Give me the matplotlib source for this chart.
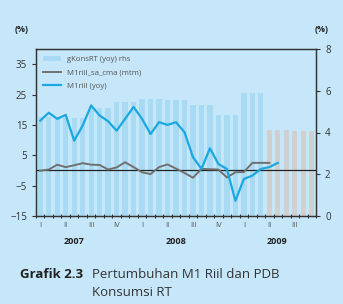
import numpy as np
import matplotlib
matplotlib.use('Agg')
from matplotlib import pyplot as plt
from matplotlib.patches import Patch
from matplotlib.lines import Line2D

plt.rcParams['font.family'] = ['Open Sans', 'DejaVu Sans']

# monthly consumption growth (quarterly value repeated per month), right axis
kons_rt = [4.72, 4.72, 4.72, 4.70, 4.70, 4.70, 5.15, 5.15, 5.15, 5.45, 5.45, 5.45,
           5.62, 5.62, 5.62, 5.55, 5.55, 5.55, 5.30, 5.30, 5.30, 4.83, 4.83, 4.83,
           5.87, 5.87, 5.87]
kons_proj = [4.13, 4.13, 4.13, 4.05, 4.05, 4.05]

# M1 real yoy, left axis
m1_yoy = [16.4, 19.0, 17.0, 18.3, 9.8, 14.8, 21.4, 18.1, 16.2, 13.1, 17.0, 20.9,
          17.0, 12.0, 15.9, 15.0, 15.9, 12.6, 4.4, 0.5, 7.3, 2.1, 0.5, -10.0,
          -2.8, -1.7, 0.5, 1.1, 2.5]
# M1 real sa cma mtm, left axis
m1_mtm = [-0.1, 0.3, 1.9, 1.1, 1.7, 2.4, 1.9, 1.8, 0.3, 1.0, 2.7, 1.1,
          -0.6, -1.2, 1.1, 2.0, 0.6, -0.8, -2.4, 0.5, 0.4, 0.3, -2.3, -0.6,
          -0.5, 2.5, 2.5, 2.5]

quarters = ['I', 'II', 'III', 'IV'] * 2 + ['I', 'II', 'III']
years = ['2007', '2008', '2009']

bg = '#c6e7f9'
fig = plt.figure(figsize=(3.43, 3.04), dpi=100, facecolor=bg)
ax = fig.add_axes([36/343, 1-216/304, 280/343, 167/304])
ax2 = ax.twinx()
ax.set_zorder(ax2.get_zorder() + 1)
ax.patch.set_visible(False)
ax2.patch.set_facecolor('#e4f3fc')

n_hist = len(kons_rt)
x_hist = np.arange(n_hist)
x_proj = np.arange(n_hist, n_hist + len(kons_proj))
ax2.bar(x_hist, kons_rt, width=0.62, color='#a9daf4', linewidth=0)
ax2.bar(x_proj, kons_proj, width=0.62, color='#d0d0d0', linewidth=0)
ax2.set_ylim(0, 8)
ax2.set_yticks([0, 2, 4, 6, 8])

ax.axhline(0, color='#222222', lw=0.9, zorder=1)
ax.plot(np.arange(len(m1_mtm)), m1_mtm, color='#707070', lw=1.4, zorder=2)
ax.plot(np.arange(len(m1_yoy)), m1_yoy, color='#19a8e0', lw=1.6, zorder=3)
ax.set_ylim(-15, 40)
ax.set_yticks([-15, -5, 5, 15, 25, 35])
ax.set_xlim(-0.5, 32.5)

ax.set_xticks(np.arange(0, 33, 3))
ax.set_xticklabels(quarters, fontsize=5.5, color='#555555')
ax.set_xticks(np.arange(-0.5, 33, 1), minor=True)
ax.tick_params(axis='x', which='major', length=0, pad=4)
ax.tick_params(axis='x', which='minor', direction='inout', length=3, width=0.8, color='#333333')
ax.tick_params(axis='y', direction='out', length=3, labelsize=7, color='#333333', labelcolor='#333333')
ax2.tick_params(axis='y', direction='out', length=3, labelsize=7, color='#333333', labelcolor='#333333')
for a in (ax, ax2):
    for s in a.spines.values():
        s.set_color('#333333')
        s.set_linewidth(0.9)

for i, yr in enumerate(years):
    fig.text((36 + 8.47 * (4.5 + 12 * i)) / 343, 1 - 241/304, yr,
             fontsize=6.5, fontweight='bold', ha='center', va='center', color='#222222')

fig.text(22/343, 1 - 30/304, '(%)', fontsize=6.5, fontweight='bold', ha='center', va='center', color='#222222')
fig.text(322/343, 1 - 30/304, '(%)', fontsize=6.5, fontweight='bold', ha='center', va='center', color='#222222')

handles = [Patch(facecolor='#a9daf4', edgecolor='none'),
           Line2D([], [], color='#707070', lw=1.4),
           Line2D([], [], color='#19a8e0', lw=1.6)]
labels = ['gKonsRT (yoy) rhs', 'M1riil_sa_cma (mtm)', 'M1riil (yoy)']
leg = ax.legend(handles, labels, loc='upper left', frameon=False, fontsize=5.6,
                labelspacing=0.8, handlelength=2.4, handleheight=0.6,
                borderaxespad=0.45, handletextpad=0.7)
for t in leg.get_texts():
    t.set_color('#555555')

fig.text(20/343, 1 - 275/304, 'Grafik 2.3', fontsize=9.5, fontweight='bold', va='center', color='#222222')
fig.text(92/343, 1 - 275/304, 'Pertumbuhan M1 Riil dan PDB', fontsize=9.5, va='center', color='#333333')
fig.text(92/343, 1 - 293/304, 'Konsumsi RT', fontsize=9.5, va='center', color='#333333')

fig.savefig('out.png', dpi=100, facecolor=bg)
